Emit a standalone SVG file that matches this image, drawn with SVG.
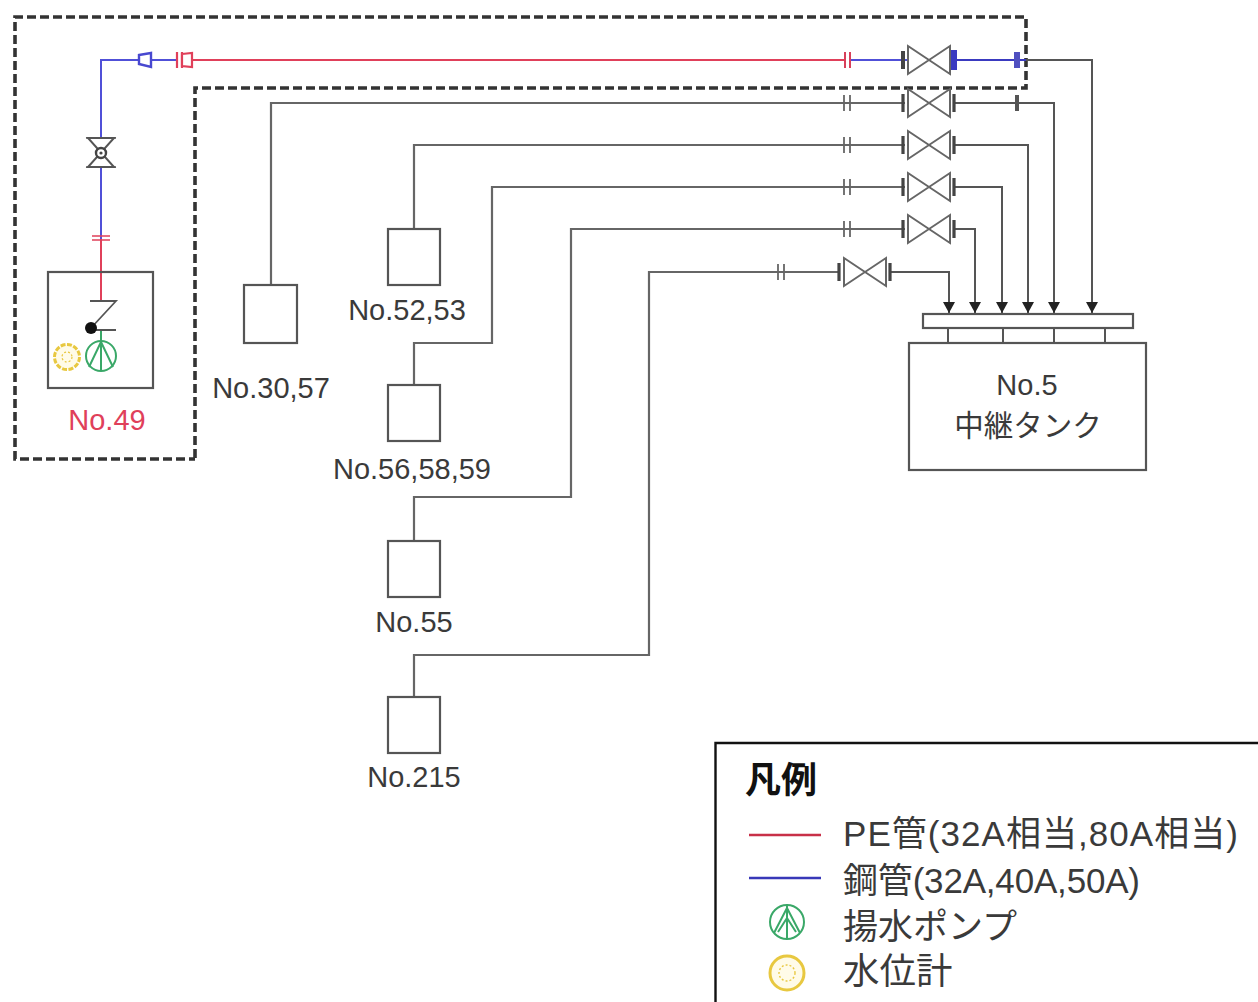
<svg xmlns="http://www.w3.org/2000/svg" width="1258" height="1002" viewBox="0 0 1258 1002">
<style>
text{font-family:"Liberation Sans","Noto Sans CJK JP",sans-serif;fill:#3a3a3a}
.lb{font-size:29px;text-anchor:middle}
.lg{font-size:35px}
.box{fill:#fff;stroke:#555;stroke-width:2.2}
.p{fill:none;stroke:#666;stroke-width:2.2}
.arr{fill:none;stroke:#555;stroke-width:2}
.red{fill:none;stroke:#e0405a;stroke-width:2}
.blue{fill:none;stroke:#5050d8;stroke-width:2}
.v{fill:#fff;stroke:#666;stroke-width:2}
.f{stroke:#444;stroke-width:3.2}
.c{stroke:#666;stroke-width:1.8}
.grn{fill:none;stroke:#3aa868;stroke-width:2}
.yel{fill:#fffbe8;stroke:#e8c840;stroke-width:3}
</style>
<defs>
<marker id="ah" markerUnits="userSpaceOnUse" markerWidth="12" markerHeight="12" refX="11" refY="6" orient="auto"><path d="M0,0L11,6L0,12Z" fill="#222"/></marker>
<g id="valve"><path class="v" d="M-21,-14L21,14V-14L-21,14Z"/><path class="f" d="M-26,-9V9M25,-9V9"/></g>
<g id="coup"><path class="c" d="M-3,-8V8M3,-8V8"/></g>
</defs>
<g id="zone"><path d="M195,458V88H1026V17H15V459H195" fill="none" stroke="#333" stroke-width="3.6" stroke-dasharray="9 4"/></g>
<g id="connectors">
<path class="p" d="M271,285V103H905"/>
<path class="p" d="M414,229V145H905"/>
<path class="p" d="M414,385V343H492V187H905"/>
<path class="p" d="M414,541V497H571V229H905"/>
<path class="p" d="M414,697V655H649V272H840"/>
<path class="arr" marker-end="url(#ah)" d="M955,103H1054V313"/>
<path class="arr" marker-end="url(#ah)" d="M955,145H1028V313"/>
<path class="arr" marker-end="url(#ah)" d="M955,187H1002V313"/>
<path class="arr" marker-end="url(#ah)" d="M955,229H975V313"/>
<path class="arr" marker-end="url(#ah)" d="M890,272H949V313"/>
<path class="arr" marker-end="url(#ah)" d="M1026,60H1092V313"/>
<path class="blue" d="M101,239V60H176"/>
<path class="red" d="M192,60H845"/>
<path class="red" d="M101,239V300"/>
<path class="blue" d="M850,60H905"/>
<path d="M955,60H1026" fill="none" stroke="#3a3ac0" stroke-width="2"/>
<path d="M905,60H908M951,60H955" stroke="#5050d8" stroke-width="2"/>
<path d="M101,330V345" class="grn"/>
<path d="M139,55L151,53V67L139,64Z" fill="#fff" stroke="#4848d0" stroke-width="2.4"/>
<path d="M177,52V68M182,52V68" stroke="#e0405a" stroke-width="2.2"/>
<path d="M182,54L192,53V67L182,66Z" fill="#fff" stroke="#e0405a" stroke-width="2.2"/>
<path d="M845,52V68M850,52V68" stroke="#d8405a" stroke-width="2"/>
<path d="M92,236H110M92,240H110" stroke="#e0405a" stroke-width="1.6"/>
<use href="#valve" x="929" y="60"/><path d="M903,51V69" stroke="#444" stroke-width="4"/><path d="M954,50V70" stroke="#3a3ac0" stroke-width="6"/>
<path d="M1017,52V68" stroke="#5050c0" stroke-width="6"/>
<use href="#valve" x="929" y="103"/><use href="#valve" x="929" y="145"/><use href="#valve" x="929" y="187"/><use href="#valve" x="929" y="229"/><use href="#valve" x="865" y="272"/>
<use href="#coup" x="847" y="103"/><use href="#coup" x="847" y="145"/><use href="#coup" x="847" y="187"/><use href="#coup" x="847" y="229"/><use href="#coup" x="781" y="272"/>
<path d="M1017,95V111" stroke="#555" stroke-width="4"/>
<path d="M88,138H114L88,167H114Z" fill="#fff" stroke="#555" stroke-width="2"/>
<path d="M86,138H116M86,167H116" stroke="#555" stroke-width="1.6"/>
<circle cx="101" cy="153" r="5" fill="#fff" stroke="#444" stroke-width="2.4"/><circle cx="101" cy="153" r="1.6" fill="#444"/>
<path d="M948,328V343M1003,328V343M1054,328V343M1105,328V343" class="arr"/>
</g>
<g id="n49"><rect class="box" x="48" y="272" width="105" height="116" style="fill:none"/><path d="M90,301H116L91,328M91,330H116" fill="none" stroke="#555" stroke-width="1.8"/><circle cx="91" cy="328" r="6" fill="#111"/><circle class="grn" cx="101" cy="356" r="15"/><path class="grn" d="M101,340V371M101,342L89,367M101,342L113,367"/><circle class="yel" cx="67" cy="357" r="12.5" stroke-dasharray="5 1.5"/><circle cx="67" cy="357" r="5" fill="none" stroke="#e8c840" stroke-width="1.2" stroke-dasharray="2 2"/><text class="lb" x="107" y="430" style="fill:#e0405a">No.49</text></g>
<g id="n3057"><rect class="box" x="244" y="285" width="53" height="58"/><text class="lb" x="271" y="398">No.30,57</text></g>
<g id="n5253"><rect class="box" x="388" y="229" width="52" height="56"/><text class="lb" x="407" y="320">No.52,53</text></g>
<g id="n565859"><rect class="box" x="388" y="385" width="52" height="56"/><text class="lb" x="412" y="479">No.56,58,59</text></g>
<g id="n55"><rect class="box" x="388" y="541" width="52" height="56"/><text class="lb" x="414" y="632">No.55</text></g>
<g id="n215"><rect class="box" x="388" y="697" width="52" height="56"/><text class="lb" x="414" y="787">No.215</text></g>
<g id="header"><rect class="box" x="923" y="314" width="210" height="14"/></g>
<g id="tank"><rect class="box" x="909" y="343" width="237" height="127"/><text class="lb" x="1027" y="395">No.5</text><text class="lb" x="1028" y="436" style="font-size:29.5px">中継タンク</text></g>
<g id="legend"><path d="M1258,743H715.5V1002" fill="none" stroke="#111" stroke-width="2.4"/>
<text x="745" y="793" style="font-size:36px;font-weight:700;fill:#111">凡例</text>
<path d="M749,835H821" fill="none" stroke="#c83048" stroke-width="2.4"/>
<path d="M749,878H821" fill="none" stroke="#3838b8" stroke-width="2.4"/>
<text class="lg" x="843" y="846" textLength="395" lengthAdjust="spacing">PE管(32A相当,80A相当)</text>
<text class="lg" x="843" y="893" textLength="297" lengthAdjust="spacing">鋼管(32A,40A,50A)</text>
<text class="lg" x="843" y="939">揚水ポンプ</text>
<text class="lg" x="843" y="984" style="font-size:36.5px">水位計</text>
<circle class="grn" cx="787" cy="922" r="17"/><path class="grn" d="M787,905V939M787,908L774,933M787,908L800,933M787,918L778,932M787,918L796,932"/>
<circle class="yel" cx="787" cy="973" r="17"/><circle cx="787" cy="973" r="8" fill="none" stroke="#e8c840" stroke-width="1.4" stroke-dasharray="2 2"/>
</g>
</svg>
